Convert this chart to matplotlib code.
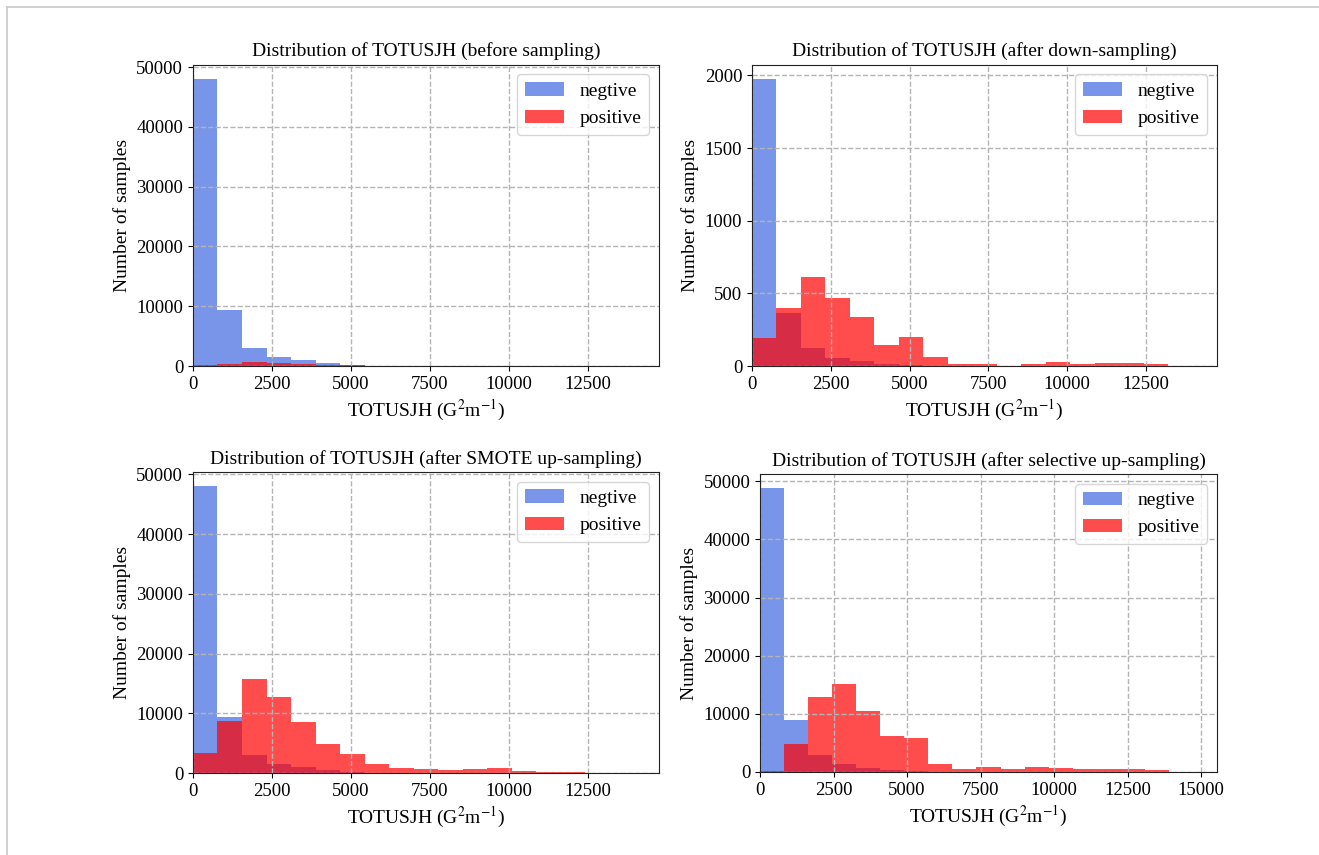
import numpy as np
import matplotlib
matplotlib.use("Agg")
import matplotlib.pyplot as plt
from matplotlib.lines import Line2D
from matplotlib.ticker import MultipleLocator

plt.rcParams['font.family'] = ['Liberation Serif', 'DejaVu Serif']
plt.rcParams['mathtext.fontset'] = 'stix'
plt.rcParams['font.size'] = 14

# bin edges of the histograms (19 bins each)
edges_a = np.linspace(0, 14760, 20)
edges_b = np.linspace(0, 15540, 20)

# counts per bin
neg_before = [48000, 9340, 3060, 1500, 945, 445, 175, 80, 40, 20, 12, 8, 5, 3, 2, 1, 1, 0, 1]
pos_before = [190, 397, 615, 466, 337, 145, 202, 64, 14, 14, 2, 14, 28, 16, 21, 18, 14, 1, 0]

neg_down = [1975, 367, 126, 55, 34, 16, 7, 3, 2, 1, 0, 0, 0, 0, 0, 0, 0, 0, 0]
pos_down = pos_before

neg_smote = neg_before
pos_smote = [3350, 8650, 15790, 12780, 8540, 4910, 3240, 1510, 840, 670, 560, 670, 780, 390, 220, 110, 0, 0, 0]

neg_sel = [48800, 8890, 2890, 1330, 750, 290, 150, 70, 35, 20, 10, 5, 3, 2, 1, 1, 0, 0, 0]
pos_sel = [150, 4850, 12810, 15170, 10440, 6170, 5830, 1330, 580, 810, 580, 810, 690, 520, 580, 580, 290, 0, 0]

titles = ['Distribution of TOTUSJH (before sampling)',
          'Distribution of TOTUSJH (after down-sampling)',
          'Distribution of TOTUSJH (after SMOTE up-sampling)',
          'Distribution of TOTUSJH (after selective up-sampling)']
panels = [(neg_before, pos_before, edges_a),
          (neg_down, pos_down, edges_a),
          (neg_smote, pos_smote, edges_a),
          (neg_sel, pos_sel, edges_b)]

# axes positions [left, bottom, width, height] in figure fraction
boxes = [[0.1463, 0.5719, 0.3533, 0.3524],
         [0.5701, 0.5719, 0.3526, 0.3524],
         [0.1463, 0.0959, 0.3533, 0.3521],
         [0.5762, 0.0971, 0.3465, 0.3485]]

fig = plt.figure(figsize=(13.19, 8.55), dpi=100)

for box, title, (neg, pos, edges) in zip(boxes, titles, panels):
    ax = fig.add_axes(box)
    centers = (edges[:-1] + edges[1:]) / 2
    ax.hist(centers, bins=edges, weights=neg, color='royalblue', alpha=0.7, label='negtive')
    ax.hist(centers, bins=edges, weights=pos, color='red', alpha=0.7, label='positive')
    ax.set_xlim(0, edges[-1])
    ax.xaxis.set_major_locator(MultipleLocator(2500))
    ax.tick_params(labelsize=13.5)
    ax.grid(True, linestyle='--', color='#b4b4b4', linewidth=1)
    ax.set_title(title, fontsize=14)
    ax.set_xlabel(r'TOTUSJH (G$^2$m$^{-1}$)', fontsize=14)
    ax.set_ylabel('Number of samples', fontsize=14)
    ax.legend(loc='upper right', fontsize=14)
    for s in ax.spines.values():
        s.set_color('#222222')

# thin frame lines at top and left of the picture
fig.add_artist(Line2D([7 / 1319, 7 / 1319], [0, 1 - 7 / 855], color='#c8c8c8', lw=1.2))
fig.add_artist(Line2D([7 / 1319, 1], [1 - 7 / 855, 1 - 7 / 855], color='#c8c8c8', lw=1.2))

fig.savefig('out.png', dpi=100)
